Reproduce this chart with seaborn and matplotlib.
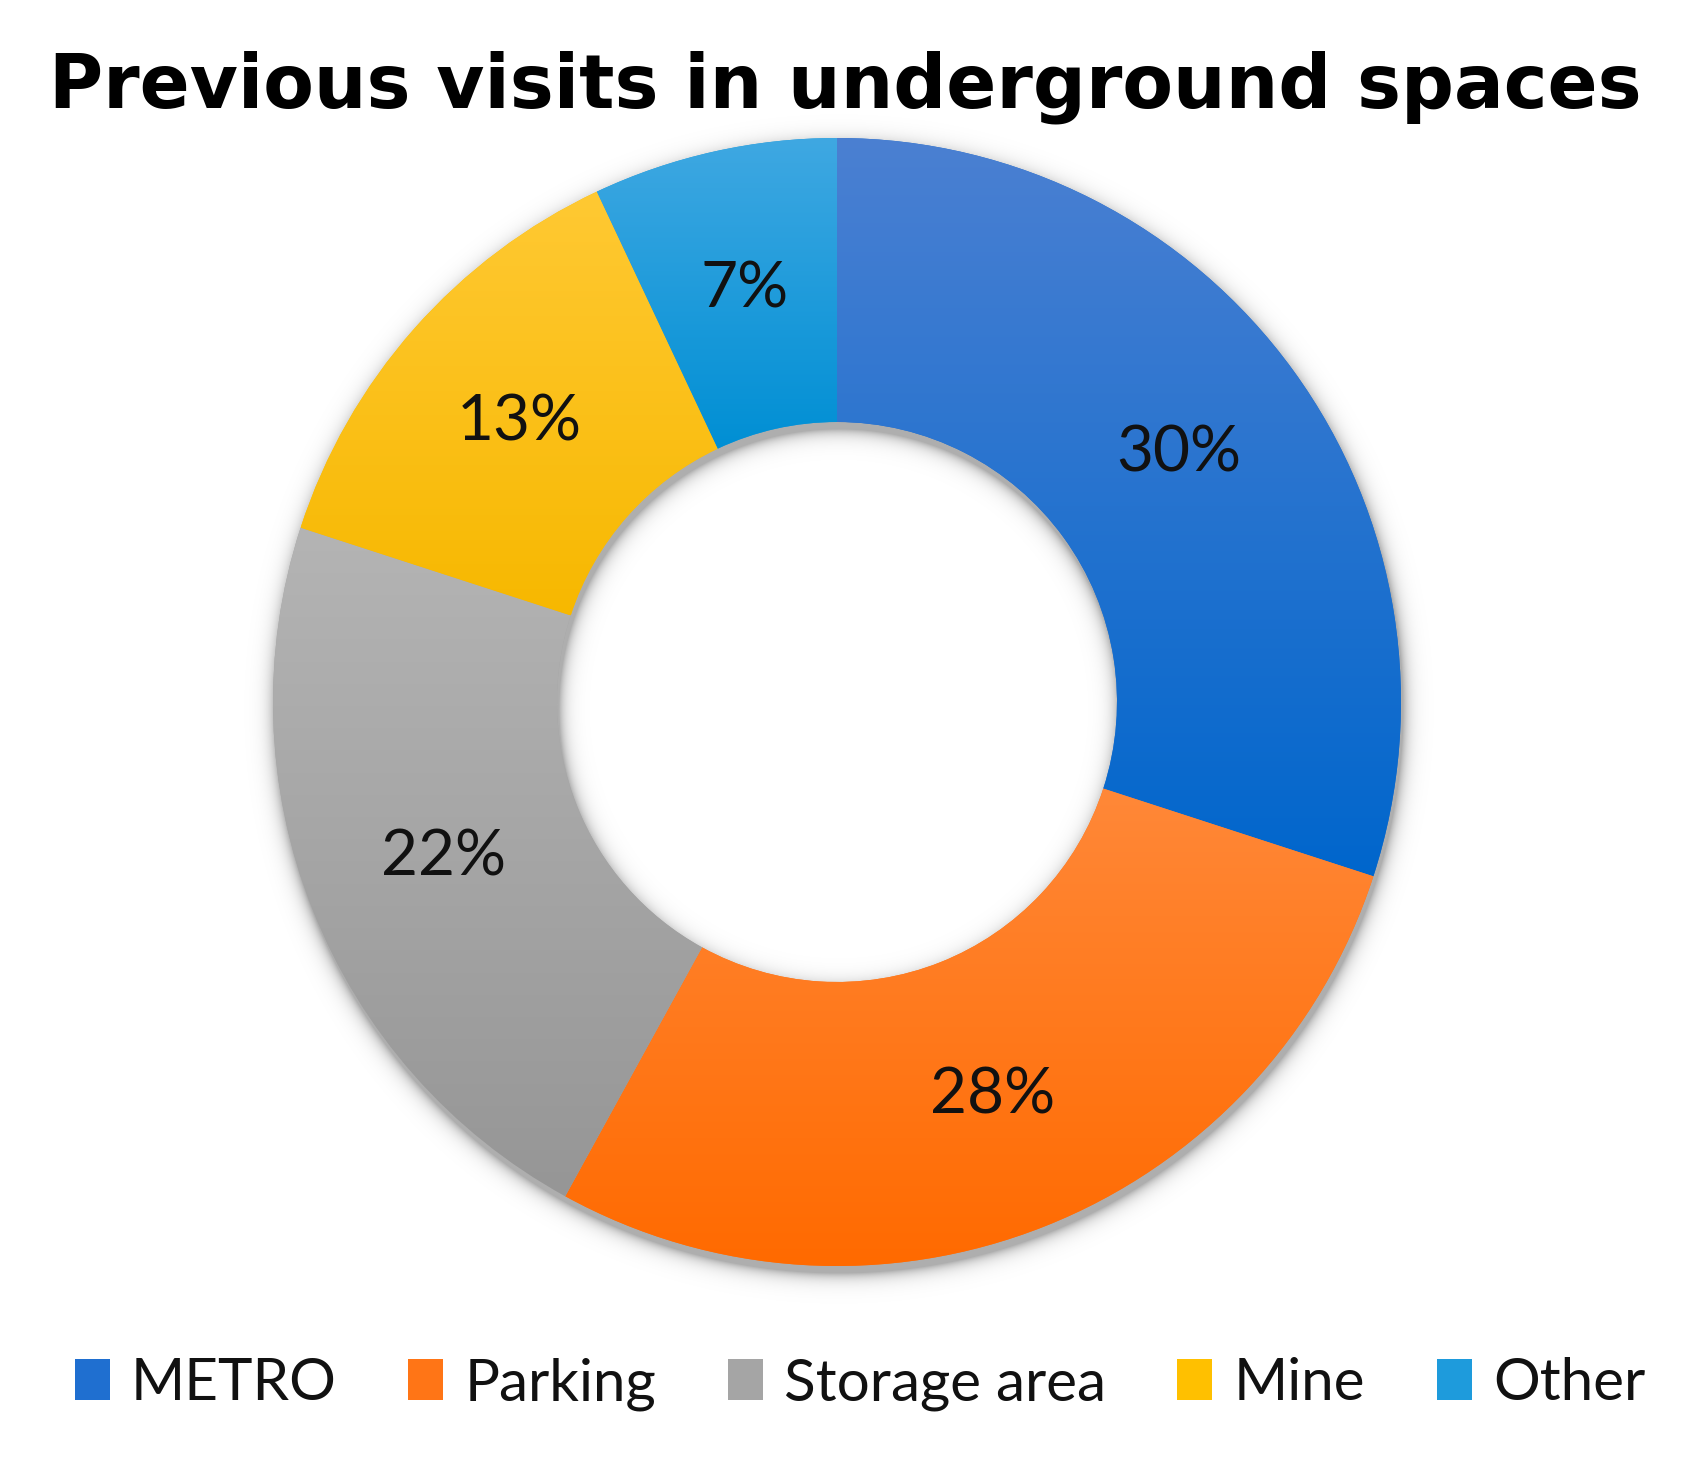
import numpy as np
import matplotlib
matplotlib.use("Agg")
import matplotlib.pyplot as plt
import seaborn as sns

# ---- data ----
categories = ["METRO", "Parking", "Storage area", "Mine", "Other"]
shares = [30, 28, 22, 13, 7]
title = "Previous visits in underground spaces"

# colours (top of gradient, bottom of gradient, legend colour)
top_colors = ["#4b80d2", "#ff8838", "#b4b4b4", "#ffc933", "#3fa8e2"]
bottom_colors = ["#0066cc", "#ff6a00", "#969696", "#f7b800", "#008fd4"]
legend_colors = ["#1f6fd0", "#ff7516", "#a5a5a5", "#ffc000", "#1e9bdc"]

sns.set_theme(style="white")
plt.rcParams["font.family"] = ["Lato", "DejaVu Sans"]

W, H = 1682, 1458
fig = plt.figure(figsize=(W / 100, H / 100), dpi=100)
ax = fig.add_axes([0, 0, 1, 1])

cx, cy = 837, H - 702
R_out, R_in = 564, 280

# soft shadow below the ring
yy, xx = np.mgrid[0:H, 0:W]
sx, sy = cx + 2, (H - 702) - 7
rr = np.hypot(xx + 0.5 - sx, (H - yy - 0.5) - sy)
d = np.maximum(rr - R_out, R_in - rr)
alpha = 0.32 * np.exp(-np.clip(d, 0, None) / 7.0)
alpha[d < 0] = 0.32
shadow = np.zeros((H, W, 4))
shadow[..., 3] = alpha
ax.imshow(shadow, extent=[0, W, 0, H], origin="upper", zorder=0.5,
          interpolation="bilinear")

wedges, texts, autotexts = ax.pie(
    shares,
    colors=legend_colors,
    startangle=90,
    counterclock=False,
    radius=R_out,
    center=(cx, cy),
    autopct=lambda p: f"{p:.0f}%",
    pctdistance=0.75,
    wedgeprops=dict(width=R_out - R_in, linewidth=0),
    textprops=dict(fontsize=46, color="#111111", family=["Lato", "DejaVu Sans"]),
)
for w in wedges:
    w.set_zorder(1)
for t in autotexts:
    t.set_zorder(5)

# vertical gradient inside each wedge
for w, ct, cb in zip(wedges, top_colors, bottom_colors):
    ext = w.get_path().get_extents(w.get_patch_transform())
    c1 = np.array(matplotlib.colors.to_rgb(ct))
    c2 = np.array(matplotlib.colors.to_rgb(cb))
    t = np.linspace(0, 1, 256)[:, None, None]
    grad = c1[None, None, :] * (1 - t) + c2[None, None, :] * t
    im = ax.imshow(grad, extent=[ext.x0, ext.x1, ext.y0, ext.y1],
                   origin="upper", aspect="auto", zorder=1.5,
                   interpolation="bilinear")
    im.set_clip_path(w)

ax.set_xlim(0, W)
ax.set_ylim(0, H)
ax.set_aspect("auto")
ax.axis("off")

ttl = fig.text(845 / W, 1 - 107 / H, title, ha="center", va="baseline",
               fontsize=51, fontweight="bold",
               family=["DejaVu Sans"], color="#000000")
# fit the title to the reference width (spaced-out heading)
renderer = fig.canvas.get_renderer()
target_w = 1593
bw = ttl.get_window_extent(renderer).width
ttl.set_fontsize(51 * target_w / bw)

leg = ax.legend(
    wedges, categories,
    loc="center", bbox_to_anchor=(860 / W, 74 / H),
    bbox_transform=fig.transFigure,
    ncol=5, frameon=False,
    prop=dict(family=["Lato", "DejaVu Sans"], size=42),
    handlelength=0.6, handleheight=0.7, handletextpad=0.37,
    columnspacing=1.22, borderpad=0, borderaxespad=0,
)
for txt in leg.get_texts():
    txt.set_color("#111111")

fig.savefig("out.png", dpi=100)
